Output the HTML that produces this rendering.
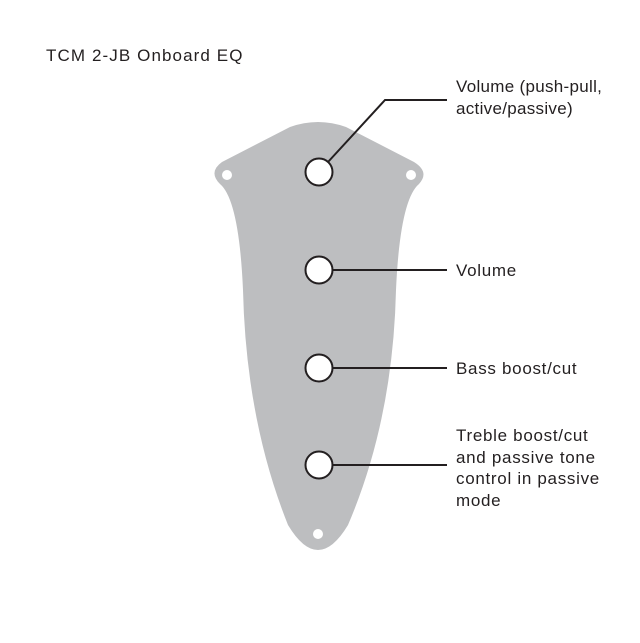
<!DOCTYPE html>
<html><head><style>
body{margin:0;background:#fff;}
.t{position:absolute;font-family:"Liberation Sans",sans-serif;font-size:17px;letter-spacing:0.7px;color:#231f20;line-height:21.5px;}
</style></head><body>
<div style="position:relative;width:640px;height:643px;overflow:hidden">
<svg width="640" height="643" style="position:absolute;left:0;top:0">
<path d="M290 127 Q318 117 346 127 L414 162 Q430 172 419 184 Q400 200 396 290 Q393 420 348 525 Q318 575 288 525 Q246 420 243 290 Q239 200 220 184 Q208 172 222 162 Z" fill="#bdbec0"/>
<circle cx="227" cy="175" r="5" fill="#fff"/>
<circle cx="411" cy="175" r="5" fill="#fff"/>
<circle cx="318" cy="534" r="5" fill="#fff"/>
<g stroke="#231f20" stroke-width="2" fill="none">
<polyline points="328,162 385,100 447,100"/>
<line x1="333" y1="270" x2="447" y2="270"/>
<line x1="333" y1="368" x2="447" y2="368"/>
<line x1="333" y1="465" x2="447" y2="465"/>
</g>
<g stroke="#231f20" stroke-width="2" fill="#fff">
<circle cx="319" cy="172" r="13.5"/>
<circle cx="319" cy="270" r="13.5"/>
<circle cx="319" cy="368" r="13.5"/>
<circle cx="319" cy="465" r="13.5"/>
</g>
</svg>
<div class="t" style="left:46px;top:45px;letter-spacing:1.1px">TCM 2-JB Onboard EQ</div>
<div class="t" style="left:456px;top:76px;letter-spacing:0.3px">Volume (push-pull,<br>active/passive)</div>
<div class="t" style="left:456px;top:260px">Volume</div>
<div class="t" style="left:456px;top:358px">Bass boost/cut</div>
<div class="t" style="left:456px;top:425px">Treble boost/cut<br>and passive tone<br>control in passive<br>mode</div>
</div>
</body></html>
